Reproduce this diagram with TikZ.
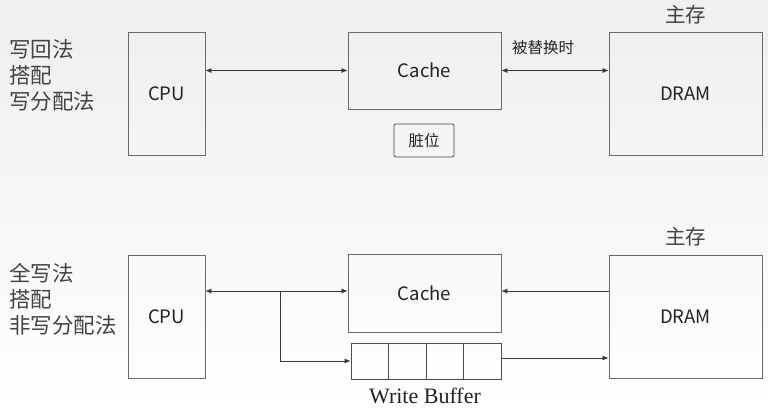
\documentclass[tikz,border=0pt]{standalone}
\usepackage{fontspec}
\setmainfont{Liberation Serif}
\newfontfamily\cjk{Noto Sans CJK SC}
\usetikzlibrary{arrows.meta}
\definecolor{boxline}{HTML}{6A6A6A}
\definecolor{txt}{HTML}{222222}
\definecolor{lbl}{HTML}{444444}
\tikzset{
  blk/.style={draw=boxline, line width=0.9pt, inner sep=0pt, font=\cjk\fontsize{18.5}{20}\selectfont, text=txt},
  cell/.style={draw=txt!80, line width=0.9pt, minimum width=37.5pt, minimum height=36pt, inner sep=0pt},
  con/.style={draw=txt!90, line width=0.6pt},
  tip/.style={-{Latex[length=6pt,width=5pt]}},
  tips/.style={{Latex[length=6pt,width=5pt]}-{Latex[length=6pt,width=5pt]}},
  side/.style={anchor=west, align=left, text=lbl, font=\cjk\fontsize{21.5}{26}\selectfont, inner sep=0pt},
  title/.style={text=lbl, font=\cjk\fontsize{20.5}{22}\selectfont, inner sep=0pt}
}
\begin{document}
\begin{tikzpicture}[x=1pt,y=-1pt]
\shade[top color=gray!13, bottom color=white, draw=none] (0,0) rectangle (768,411);
\useasboundingbox (0,0) rectangle (768,411);

% ---------- top ----------
\node[side] (lt) at (9,75) {写回法\\搭配\\写分配法};
\node[blk, minimum width=77pt, minimum height=123pt] (cpu1) at (166.5,93.5) {CPU};
\node[blk, minimum width=153pt, minimum height=77pt] (cache1) at (424.5,70.5) {Cache};
\node[blk, minimum width=153pt, minimum height=123pt] (dram1) at (685.5,93.5) {DRAM};
\node[title] (mm1) at (685.5,15) {主存};
\node[draw=txt!85, line width=0.7pt, rounded corners=2pt, minimum width=60pt, minimum height=33pt, inner sep=0pt, font=\cjk\fontsize{15.5}{17}\selectfont, text=txt] (dirty) at (424,140.5) {脏位};
\draw[con, tips] (cpu1.east |- cache1.west) -- (cache1.west);
\draw[con, tips] (cache1.east) -- (cache1.east -| dram1.west);
\node[font=\cjk\fontsize{15.5}{17}\selectfont, text=txt, inner sep=0pt] (rep) at (543,48) {被替换时};

% ---------- bottom ----------
\node[side] (lb) at (9,299) {全写法\\搭配\\非写分配法};
\node[blk, minimum width=77pt, minimum height=123pt] (cpu2) at (166.5,316.5) {CPU};
\node[blk, minimum width=153pt, minimum height=78pt] (cache2) at (424.5,293) {Cache};
\node[blk, minimum width=153pt, minimum height=123pt] (dram2) at (685.5,316.5) {DRAM};
\node[title] (mm2) at (685.5,237) {主存};
\node[cell] (c1) at (369.75,361) {};
\node[cell] (c2) at (407.25,361) {};
\node[cell] (c3) at (444.75,361) {};
\node[cell] (c4) at (482.25,361) {};
\node[font=\fontsize{22}{24}\selectfont, text=txt, inner sep=0pt] (wbl) at (425,396) {Write Buffer};
\coordinate (br) at (280,291);
\draw[con, tips] (cpu2.east |- br) -- (br -| cache2.west);
\draw[con, tip] (br) |- (c1.west);
\draw[con, tip] (br -| dram2.west) -- (br -| cache2.east);
\draw[con, tip] (c4.east |- 0,358) -- (dram2.west |- 0,358);
\end{tikzpicture}
\end{document}
